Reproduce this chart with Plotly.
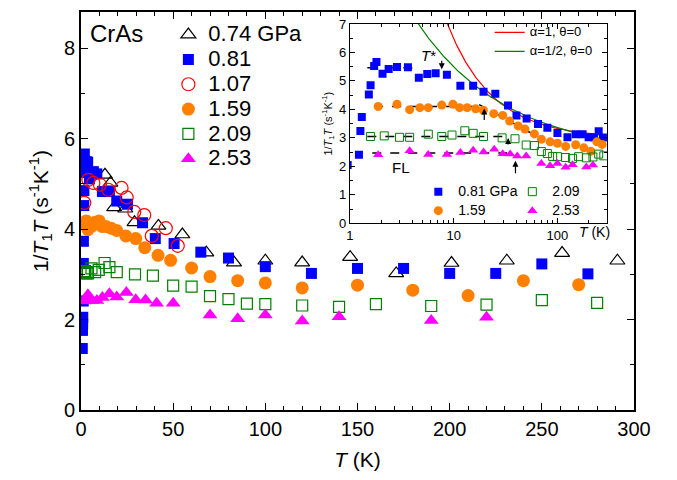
import numpy as np
import plotly.graph_objects as go

# ---- 1/T1T of CrAs under pressure (s^-1 K^-1) ----
T_074 = [13, 16, 18, 24, 29, 42, 55, 68, 83, 100, 120, 146, 171, 201, 231, 261, 291]
R_074 = [5.20, 5.02, 4.48, 4.45, 4.15, 4.07, 3.88, 3.48, 3.26, 3.30, 3.26, 3.38, 3.02, 3.25, 3.30, 3.47, 3.30]

T_081 = [0.7, 0.8, 0.9, 0.95, 1.22, 1.26, 1.3, 1.52, 1.58, 1.71, 1.8, 2.06, 2.36, 2.84, 3.62,
         4.61, 5.56, 6.7, 8.6, 11.6, 15.4, 19.4, 25.2, 33.4, 40.3, 50.5, 65, 80, 100, 125,
         150, 175, 200, 225, 250, 275]
R_081 = [1.36, 1.76, 1.91, 2.05, 2.41, 3.24, 3.73, 4.52, 4.85, 5.52, 5.66, 5.25, 5.42, 5.49, 5.48,
         5.11, 5.24, 5.27, 5.22, 4.83, 4.83, 4.62, 4.55, 4.14, 3.79, 3.68, 3.49, 3.36, 3.17, 3.02,
         3.13, 3.13, 3.02, 3.02, 3.23, 3.01]

T_107 = [1.8, 4.0, 6.7, 10.3, 14.8, 22, 24.8, 28.9, 34.3, 38.4, 46, 52.5]
R_107 = [4.58, 5.09, 5.02, 4.98, 4.87, 4.91, 4.70, 4.38, 4.31, 3.85, 4.02, 3.63]

T_159 = [1.87, 2.84, 3.76, 4.72, 5.69, 7.67, 9.83, 11.4, 13.5, 16.3, 19.3, 24.3, 29.7, 34.6,
         41.8, 48.6, 60, 70, 85, 100, 120, 150, 180, 210, 240, 270]
R_159 = [4.10, 4.18, 3.99, 4.06, 4.06, 4.15, 4.18, 4.06, 4.06, 4.02, 3.97, 3.85, 3.79, 3.59,
         3.42, 3.31, 3.14, 2.95, 2.86, 2.81, 2.70, 2.76, 2.65, 2.53, 2.86, 2.77]

T_209 = [1.58, 2.14, 3.0, 3.76, 5.69, 7.67, 9.63, 12.8, 15.4, 19.4, 29.3, 39, 50, 60, 70, 80,
         90, 100, 120, 140, 160, 190, 220, 250, 280]
R_209 = [3.05, 3.07, 3.02, 3.02, 3.13, 3.05, 3.10, 3.25, 3.16, 3.05, 3.00, 2.97, 2.75, 2.73,
         2.52, 2.45, 2.35, 2.34, 2.31, 2.28, 2.34, 2.30, 2.33, 2.43, 2.37]

T_253 = [1.87, 3.76, 5.69, 8.6, 11.6, 15.4, 19.4, 24.6, 29.7, 35, 41, 50, 70, 85, 100, 120,
         140, 190, 220]
R_253 = [2.41, 2.55, 2.42, 2.42, 2.49, 2.57, 2.50, 2.60, 2.44, 2.43, 2.36, 2.36, 2.10, 2.02,
         2.10, 1.97, 2.06, 1.98, 2.05]

# Fermi-liquid plateaus (T range, level) and crossover temperatures
FL_081 = ([1.47, 4.7], 5.46)
FL_159 = ([1.71, 17.6], 4.10)
FL_209 = ([1.47, 34.0], 3.05)
FL_253 = ([1.64, 35.0], 2.47)
SLOPE_159_T = [17.6, 68.0]
SLOPE_159_R = [4.17, 3.00]
T_STAR = {"0.81": (7.67, 5.41), "1.59": (19.7, 4.03), "2.09": (33.5, 3.00), "2.53": (39.4, 2.20)}

# Spin-fluctuation model 1/T1T = A/(T+theta)^alpha + B
FIT_A1 = (35.0, 2.98)     # alpha = 1,   theta = 0
FIT_A12 = (9.88, 2.37)    # alpha = 1/2, theta = 0

BLUE, RED, ORANGE, GREEN, MAGENTA = "#0000ff", "#ff0000", "#ff8000", "#008000", "#ff00ff"
FONT = "Arial, Liberation Sans, sans-serif"


def big(text, px):
    return f'<span style="font-size:{px}px">{text}</span>'


fig = go.Figure()

# ---- main panel ----
main = [
    ("0.74 GPa", T_074, R_074, dict(symbol="triangle-up-open", color="black", size=13, line=dict(width=1.2))),
    ("0.81", T_081, R_081, dict(symbol="square", color=BLUE, size=11)),
    ("1.07", T_107, R_107, dict(symbol="circle-open", color=RED, size=13, line=dict(width=1.2))),
    ("1.59", T_159, R_159, dict(symbol="circle", color=ORANGE, size=13)),
    ("2.09", T_209, R_209, dict(symbol="square-open", color=GREEN, size=11, line=dict(width=1.2))),
    ("2.53", T_253, R_253, dict(symbol="triangle-up", color=MAGENTA, size=13)),
]
for name, t, r, mk in main:
    fig.add_trace(go.Scatter(x=t, y=r, mode="markers", name=big(name, 22), marker=mk,
                             xaxis="x", yaxis="y", legend="legend"))

# ---- inset (log T) ----
# model curves
Tm = np.logspace(np.log10(3), np.log10(300), 200)
fig.add_trace(go.Scatter(x=Tm, y=FIT_A1[0] / Tm + FIT_A1[1], mode="lines",
                         name=big("\u03b1=1, \u03b8=0", 13), line=dict(color=RED, width=1.2),
                         xaxis="x2", yaxis="y2", legend="legend4"))
fig.add_trace(go.Scatter(x=Tm, y=FIT_A12[0] / np.sqrt(Tm) + FIT_A12[1], mode="lines",
                         name=big("\u03b1=1/2, \u03b8=0", 13), line=dict(color=GREEN, width=1.2),
                         xaxis="x2", yaxis="y2", legend="legend4"))

# Fermi-liquid guides
for (tr, lvl) in (FL_081, FL_159, FL_209, FL_253):
    fig.add_trace(go.Scatter(x=tr, y=[lvl, lvl], mode="lines", showlegend=False,
                             line=dict(color="black", width=1.5, dash="dash"),
                             xaxis="x2", yaxis="y2"))
fig.add_trace(go.Scatter(x=SLOPE_159_T, y=SLOPE_159_R, mode="lines", showlegend=False,
                         line=dict(color="black", width=1.5, dash="dash"),
                         xaxis="x2", yaxis="y2"))

inset = [
    ("0.81 GPa", T_081, R_081, dict(symbol="square", color=BLUE, size=8), "legend2"),
    ("1.59", T_159, R_159, dict(symbol="circle", color=ORANGE, size=9), "legend2"),
    ("2.09", T_209, R_209, dict(symbol="square-open", color=GREEN, size=8, line=dict(width=1)), "legend3"),
    ("2.53", T_253, R_253, dict(symbol="triangle-up", color=MAGENTA, size=9), "legend3"),
]
for name, t, r, mk, lg in inset:
    fig.add_trace(go.Scatter(x=t, y=r, mode="markers", name=big(name, 14), marker=mk,
                             xaxis="x2", yaxis="y2", legend=lg))

annotations = [
    dict(text="CrAs", x=0.065, y=0.946, xref="paper", yref="paper", showarrow=False,
         xanchor="center", yanchor="middle", font=dict(size=24, family=FONT, color="black")),
    dict(text="<i>T</i> (K)", x=0.929, y=0.447, xref="paper", yref="paper", showarrow=False,
         xanchor="center", yanchor="middle", font=dict(size=14, family=FONT, color="black")),
    dict(text="FL", x=np.log10(3.09), y=1.97, xref="x2", yref="y2", showarrow=False,
         xanchor="center", yanchor="middle", font=dict(size=15, family=FONT, color="black")),
    dict(text="<i>T</i>*", x=np.log10(5.7), y=5.9, xref="x2", yref="y2", showarrow=False,
         xanchor="center", yanchor="middle", font=dict(size=15, family=FONT, color="black")),
]
# crossover arrows
arrow_len = {"0.81": -17, "1.59": 20, "2.09": 15, "2.53": 21}
for key, (tx, ty) in T_STAR.items():
    annotations.append(dict(x=np.log10(tx), y=ty, xref="x2", yref="y2", showarrow=True,
                            ax=0, ay=arrow_len[key], arrowhead=2, arrowsize=1,
                            arrowwidth=1.2, arrowcolor="black", text=" "))

axis_common = dict(showline=True, linecolor="black", mirror="ticks", ticks="inside",
                   tickcolor="black", showgrid=False, zeroline=False,
                   tickfont=dict(family=FONT, color="black"))

log_minor = [m * 10 ** e for e in range(0, 3) for m in range(2, 10) if m * 10 ** e <= 300]

fig.update_layout(
    width=677, height=480, autosize=False,
    margin=dict(l=81, r=43, t=5, b=70),
    paper_bgcolor="white", plot_bgcolor="white",
    font=dict(family=FONT, color="black"),
    xaxis=dict(**axis_common, range=[0, 300], tickvals=[0, 50, 100, 150, 200, 250, 300],
               ticklen=7, linewidth=1.6, tickwidth=1.3, tickfont_size=20,
               minor=dict(dtick=10, ticks="inside", ticklen=4, tickcolor="black"),
               title=dict(text="<i>T</i> (K)", font=dict(size=21, family=FONT), standoff=14),
               domain=[0, 1]),
    yaxis=dict(**axis_common, range=[0, 8.8], tickvals=[0, 2, 4, 6, 8],
               ticklen=7, linewidth=1.6, tickwidth=1.3, tickfont_size=20,
               minor=dict(dtick=1, ticks="inside", ticklen=4, tickcolor="black"),
               title=dict(text="1/<i>T</i><sub>1</sub><i>T</i> (s<sup>-1</sup>K<sup>-1</sup>)",
                          font=dict(size=21, family=FONT), standoff=10),
               domain=[0, 1]),
    xaxis2=dict(**axis_common, type="log", range=[0, np.log10(300)], tickvals=[1, 10, 100],
                ticktext=["1", "10", "100"], ticklen=5, linewidth=1.2, tickfont_size=13,
                minor=dict(tickvals=log_minor, ticks="inside", ticklen=3, tickcolor="black",
                           showgrid=False),
                domain=[0.4864, 0.951], anchor="y2"),
    yaxis2=dict(**axis_common, range=[0, 7], dtick=1, ticklen=5, linewidth=1.2, tickfont_size=13,
                minor=dict(dtick=0.5, ticks="inside", ticklen=3, tickcolor="black"),
                title=dict(text="1/<i>T</i><sub>1</sub><i>T</i> (s<sup>-1</sup>K<sup>-1</sup>)",
                           font=dict(size=11, family=FONT), standoff=4),
                domain=[0.469, 0.970], anchor="x2"),
    legend=dict(x=0.158, y=0.987, xanchor="left", yanchor="top", bgcolor="rgba(0,0,0,0)",
                font=dict(size=16.8, family=FONT), itemsizing="trace"),
    legend2=dict(x=0.61, y=0.585, xanchor="left", yanchor="top", bgcolor="rgba(0,0,0,0)",
                 font=dict(size=11.5, family=FONT)),
    legend3=dict(x=0.78, y=0.585, xanchor="left", yanchor="top", bgcolor="rgba(0,0,0,0)",
                 font=dict(size=11.5, family=FONT)),
    legend4=dict(x=0.739, y=0.985, xanchor="left", yanchor="top", bgcolor="rgba(0,0,0,0)",
                 font=dict(size=9.5, family=FONT)),
    annotations=annotations,
)

fig.write_html("out.html")
